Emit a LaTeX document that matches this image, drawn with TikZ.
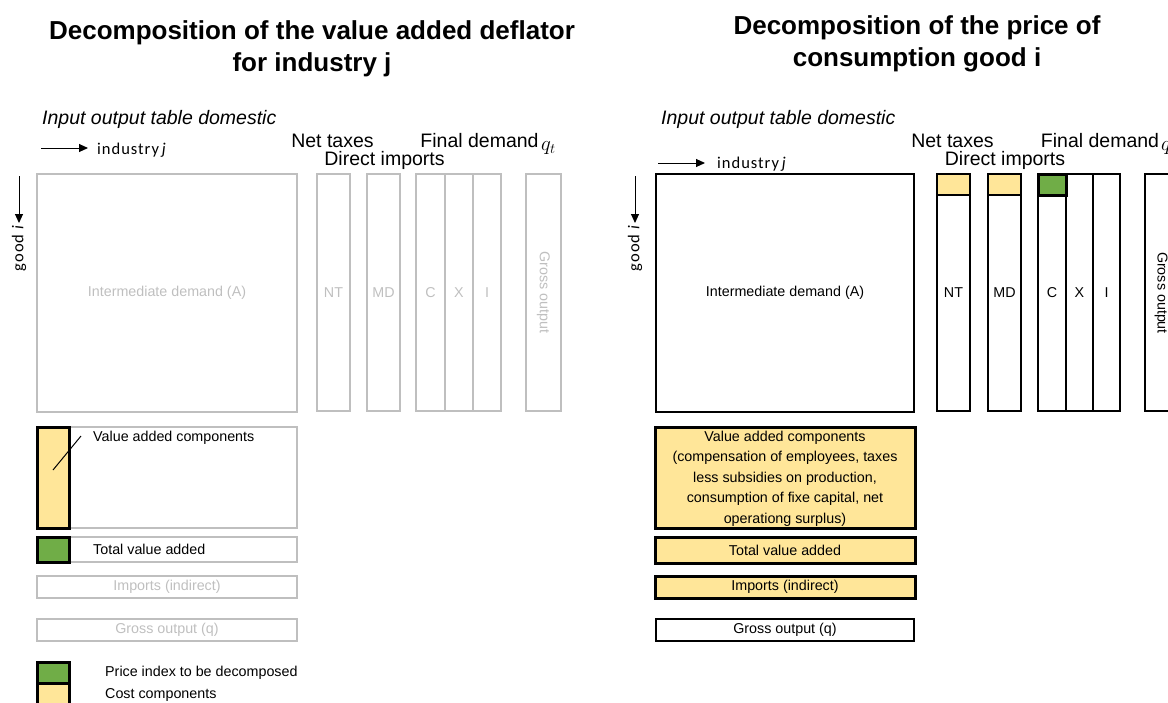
\documentclass[tikz,border=0pt]{standalone}
\usepackage{fontspec}
\setmainfont{Liberation Sans}
\newfontfamily\calfont[LetterSpace=6]{Carlito}
\usetikzlibrary{arrows.meta}
\definecolor{lgray}{HTML}{BFBFBF}
\definecolor{cyellow}{HTML}{FFE699}
\definecolor{cgreen}{HTML}{70AD47}
\newcommand\rbox[7]{%
  \pgfmathsetmacro\rw{#5-#3}\pgfmathsetmacro\rh{#6-#4}%
  \pgfmathsetmacro\rx{(#3+#5)/2}\pgfmathsetmacro\ry{(#4+#6)/2}%
  \node[#2, minimum width=\rw pt, minimum height=\rh pt] (#1) at (\rx,\ry) {#7};}
\begin{document}
\begin{tikzpicture}[x=1pt,y=-1pt,
  base/.style={rectangle, inner sep=0pt, outer sep=0pt, font=\fontsize{14.3}{20.5}\selectfont},
  gbox/.style={base, draw=lgray, line width=1.6pt, text=lgray},
  bbox/.style={base, draw=black, line width=2pt},
  hbox/.style={base, draw=black, line width=3pt},
  ycell/.style={hbox, fill=cyellow},
  gcell/.style={hbox, fill=cgreen},
  ytop/.style={bbox, fill=cyellow},
  title/.style={font=\bfseries\fontsize{26}{32}\selectfont, align=center},
  head/.style={font=\fontsize{19.5}{22}\selectfont, inner sep=0pt},
  ital/.style={font=\itshape\fontsize{19.5}{22}\selectfont, inner sep=0pt, anchor=west},
  axis/.style={font=\calfont\fontsize{16.5}{18}\selectfont, inner sep=0pt},
  arr/.style={line width=1pt, -{Triangle[length=9pt,width=8pt]}},
  txt/.style={font=\fontsize{14.3}{17}\selectfont, inner sep=0pt}
]
\useasboundingbox (0,0) rectangle (1168,702);

% ---------------- LEFT PANEL ----------------
\node[title] (tl) at (312,48.5) {Decomposition of the value added deflator\\for industry j};
\node[ital] (iol) at (42,119) {Input output table domestic};
\coordinate (al1) at (41,148); \coordinate (al2) at (88,148);
\draw[arr] (al1) -- (al2);
\node[axis, anchor=west] (indl) at (97,150) {industry\,\textit{j}};
\coordinate (dl1) at (19,176); \coordinate (dl2) at (19,223);
\draw[arr] (dl1) -- (dl2);
\node[axis, rotate=90] (goodl) at (19,248) {good \textit{i}};

\node[head] (ntl) at (332.5,141) {Net taxes};
\node[head] (dil) at (384.5,160) {Direct imports};
\node[head] (fdl) at (479.5,141) {Final demand};
\node[head, anchor=west] (qtl) at (541,148) {$q_t$};

\rbox{Al}{gbox}{37}{174}{297}{412}{Intermediate demand (A)}
\rbox{NTl}{gbox}{317}{174}{350}{411}{NT}
\rbox{MDl}{gbox}{367}{174}{400}{411}{MD}
\rbox{Cl}{gbox}{416}{174}{445}{411}{C}
\rbox{Xl}{gbox}{445}{174}{473}{411}{X}
\rbox{Il}{gbox}{473}{174}{501}{411}{I}
\rbox{GOl}{gbox}{526}{174}{561}{411}{}
\node[txt, text=lgray, rotate=-90] (gotl) at (GOl.center) {Gross output};

\rbox{VAl}{gbox}{37}{427}{297}{528}{}
\rbox{VAyl}{ycell}{37}{427}{69}{528}{}
\coordinate (sl1) at (53,470); \coordinate (sl2) at (81,436);
\draw[line width=1pt] (sl1) -- (sl2);
\node[txt, anchor=west] (vatl) at (93,438) {Value added components};

\rbox{TVl}{gbox}{37}{537}{297}{562}{}
\rbox{TVgl}{gcell}{37}{537}{69}{562}{}
\node[txt, anchor=west] (tvtl) at (93,549.5) {Total value added};

\rbox{IMl}{gbox}{37}{576}{297}{598}{Imports (indirect)}
\rbox{GQl}{gbox}{37}{619}{297}{641}{Gross output (q)}

\rbox{LGg}{gcell}{37}{662}{69}{683}{}
\rbox{LGy}{ycell}{37}{683}{69}{705}{}
\node[txt, anchor=west] (lgt1) at (105,673) {Price index to be decomposed};
\node[txt, anchor=west] (lgt2) at (105,695) {Cost components};

% ---------------- RIGHT PANEL ----------------
\node[title] (tr) at (917,43.5) {Decomposition of the price of\\consumption good i};
\node[ital] (ior) at (661,119) {Input output table domestic};
\coordinate (ar1) at (658,163); \coordinate (ar2) at (705,163);
\draw[arr] (ar1) -- (ar2);
\node[axis, anchor=west] (indr) at (717,164) {industry\,\textit{j}};
\coordinate (dr1) at (635,176); \coordinate (dr2) at (635,223);
\draw[arr] (dr1) -- (dr2);
\node[axis, rotate=90] (goodr) at (635,248) {good \textit{i}};

\node[head] (ntr) at (952.5,141) {Net taxes};
\node[head] (dir) at (1005,160) {Direct imports};
\node[head] (fdr) at (1100,141) {Final demand};
\node[head, anchor=west] (qtr) at (1161,148) {$q_t$};

\rbox{Ar}{bbox}{656}{174}{914}{412}{Intermediate demand (A)}
\rbox{NTr}{bbox}{937}{174}{970}{411}{NT}
\rbox{NTyr}{ytop}{937}{174}{970}{195}{}
\rbox{MDr}{bbox}{988}{174}{1021}{411}{MD}
\rbox{MDyr}{ytop}{988}{174}{1021}{195}{}
\rbox{Cr}{bbox}{1038}{174}{1066}{411}{C}
\rbox{Xr}{bbox}{1066}{174}{1093}{411}{X}
\rbox{Ir}{bbox}{1093}{174}{1120}{411}{I}
\rbox{Cgr}{gcell}{1038}{174}{1066}{195}{}
\rbox{GOr}{bbox}{1145}{174}{1185}{411}{}
\node[txt, rotate=-90] (gotr) at (1161,293) {Gross output};

\rbox{VAr}{ycell}{655}{427}{915}{528}{}
\node[txt, align=center, font=\fontsize{14.3}{20.5}\selectfont] (vatr) at (785,478.5)
  {Value added components\\(compensation of employees, taxes\\less subsidies on production,\\consumption of fixe capital, net\\operationg surplus)};
\rbox{TVr}{ycell}{655}{537}{915}{563}{Total value added}
\rbox{IMr}{ycell}{655}{576}{915}{598}{Imports (indirect)}
\rbox{GQr}{bbox}{656}{619}{914}{641}{Gross output (q)}
\end{tikzpicture}
\end{document}
